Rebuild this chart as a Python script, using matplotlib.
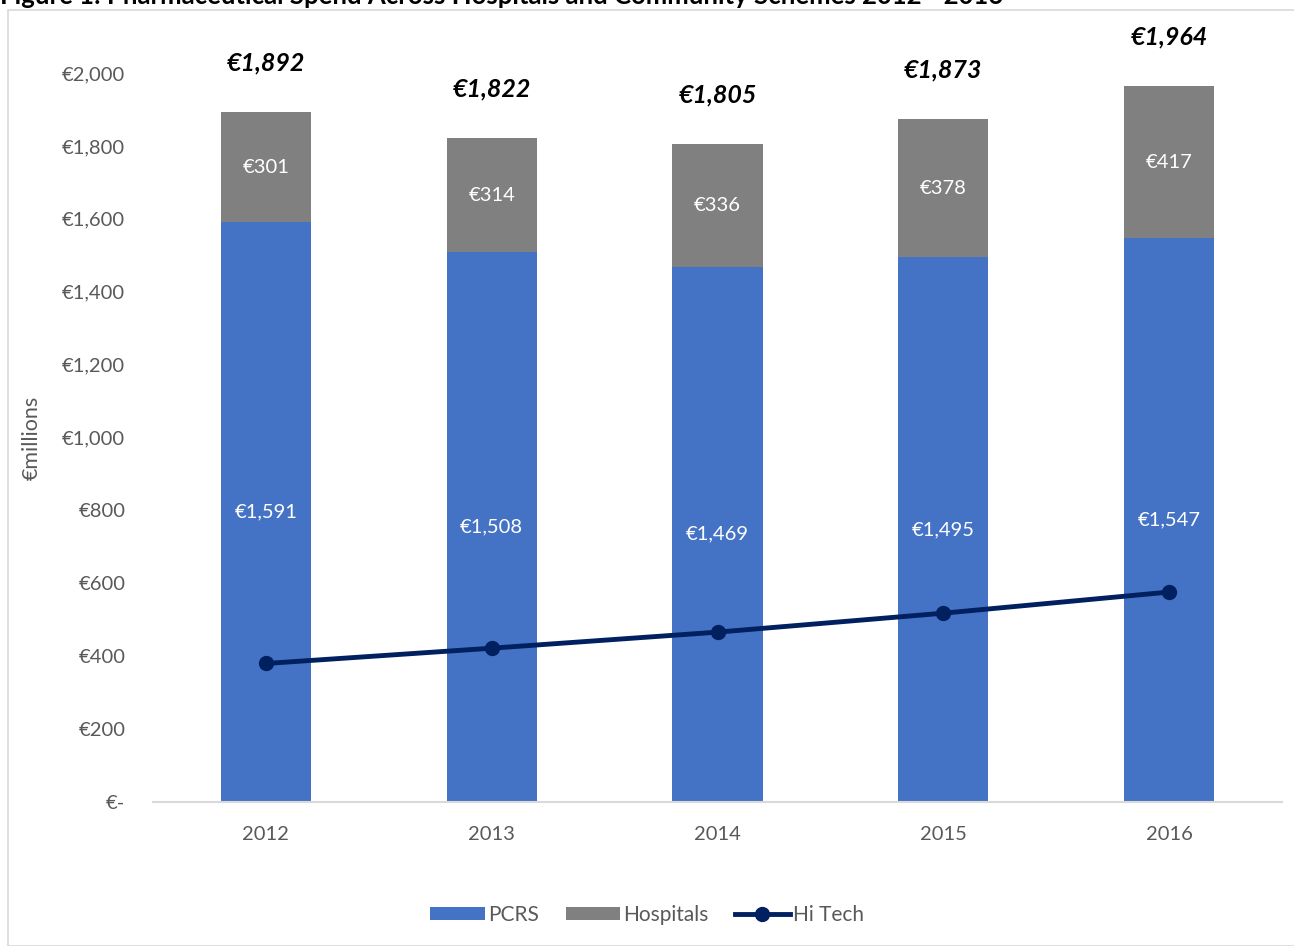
import matplotlib.pyplot as plt
from matplotlib.patches import Rectangle
from matplotlib.ticker import FuncFormatter

plt.rcParams['font.family'] = ['Lato', 'DejaVu Sans']

years = ['2012', '2013', '2014', '2015', '2016']
pcrs = [1591, 1508, 1469, 1495, 1547]
hospitals = [301, 314, 336, 378, 417]
totals = [1892, 1822, 1805, 1873, 1964]
hitech = [380, 422, 466, 518, 576]

blue = '#4472C4'
grey = '#808080'
navy = '#002060'
txt = '#595959'

fig = plt.figure(figsize=(12.94, 9.46), dpi=100)
ax = fig.add_axes([153 / 1294, 1 - 802 / 946, 1129 / 1294, 729 / 946 * 2100 / 2000])

# outer chart border
fig.patches.append(Rectangle((8 / 1294, 0), 1.0, 1 - 10 / 946, transform=fig.transFigure,
                             fill=False, edgecolor='#D9D9D9', linewidth=1.2))
fig.text(0.0, 1.004, 'Figure 1: Pharmaceutical Spend Across Hospitals and Community Schemes 2012 - 2016',
         fontsize=18.5, fontweight='bold', ha='left', va='center', color='black')

x = list(range(len(years)))
b1 = ax.bar(x, pcrs, width=0.4, color=blue, label='PCRS', zorder=2)
b2 = ax.bar(x, hospitals, width=0.4, bottom=pcrs, color=grey, label='Hospitals', zorder=2)
l1, = ax.plot(x, hitech, color=navy, linewidth=3.5, marker='o', markersize=10,
              label='Hi Tech', zorder=3)

for i in x:
    ax.text(i, pcrs[i] / 2, f'€{pcrs[i]:,}', ha='center', va='center',
            color='white', fontsize=14.5)
    ax.text(i, pcrs[i] + hospitals[i] / 2, f'€{hospitals[i]}', ha='center',
            va='center', color='white', fontsize=14.5)
    ax.text(i, totals[i] + 135, f'€{totals[i]:,}', ha='center', va='center',
            color='black', fontsize=18, fontweight='bold', fontstyle='italic')

ax.set_xlim(-0.5, 4.5)
ax.set_ylim(0, 2100)
ax.set_yticks(range(0, 2001, 200))
ax.yaxis.set_major_formatter(FuncFormatter(lambda v, p: '€-' if v == 0 else f'€{int(v):,}'))
ax.set_xticks(x)
ax.set_xticklabels(years)
ax.tick_params(axis='both', length=0, labelsize=14.5, colors=txt)
ax.tick_params(axis='x', pad=17)
ax.tick_params(axis='y', pad=20)
for s in ['top', 'right', 'left']:
    ax.spines[s].set_visible(False)
ax.spines['bottom'].set_color('#D9D9D9')
ax.spines['bottom'].set_linewidth(1.5)

fig.text(32 / 1294, 1 - 438 / 946, '€millions', rotation=90, ha='center', va='center',
         fontsize=15.5, color=txt)

fig.legend([b1, b2, l1], ['PCRS', 'Hospitals', 'Hi Tech'], loc='center',
           bbox_to_anchor=(0.5, 1 - 915 / 946), ncol=3, frameon=False,
           fontsize=15, labelcolor=txt, handlelength=2.6, handleheight=0.6,
           columnspacing=1.3, handletextpad=0.15)

fig.savefig('out.png', dpi=100)
